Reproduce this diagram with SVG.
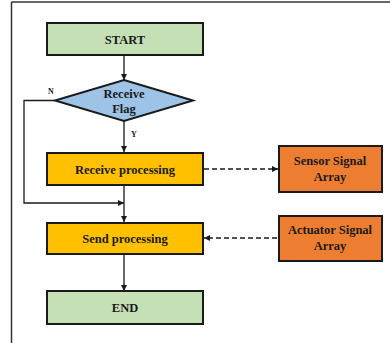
<svg xmlns="http://www.w3.org/2000/svg" width="390" height="343" viewBox="0 0 390 343">
<style>
.box{stroke:#1a1a1a;stroke-width:2}
.green{fill:#C5E0B4}
.yellow{fill:#FFC000}
.orange{fill:#ED7D31}
.blue{fill:#9DC3E6}
.t{font-family:"Liberation Serif","Times New Roman",serif;font-weight:bold;font-size:12.5px;fill:#1a1a1a;text-anchor:middle}
.s{font-family:"Liberation Serif","Times New Roman",serif;font-weight:bold;font-size:8px;fill:#1a1a1a;text-anchor:middle}
.ln{stroke:#1a1a1a;stroke-width:1.3;fill:none}
.dash{stroke:#1a1a1a;stroke-width:1.6;fill:none;stroke-dasharray:5,3}
</style>
<defs>
<marker id="ah" viewBox="0 0 10 10" refX="10" refY="5" markerWidth="6" markerHeight="6" markerUnits="userSpaceOnUse" orient="auto">
<path d="M0,0 L10,5 L0,10 z" fill="#1a1a1a"/>
</marker>
</defs>
<rect width="390" height="343" fill="#ffffff"/>
<g id="frame">
<line x1="11.5" y1="2" x2="390" y2="2" stroke="#333" stroke-width="1.5"/>
<line x1="11.5" y1="2" x2="11.5" y2="343" stroke="#333" stroke-width="1.5"/>
</g>
<g id="connectors">
<line class="ln" x1="124" y1="55" x2="124" y2="80" marker-end="url(#ah)"/>
<line class="ln" x1="124" y1="120" x2="124" y2="152" marker-end="url(#ah)"/>
<polyline class="ln" points="55,100.5 24,100.5 24,203 124,203" marker-end="url(#ah)"/>
<line class="ln" x1="124" y1="185" x2="124" y2="222" marker-end="url(#ah)"/>
<line class="ln" x1="124" y1="254" x2="124" y2="291" marker-end="url(#ah)"/>
<line class="dash" x1="204" y1="169" x2="278" y2="169" marker-end="url(#ah)"/>
<line class="dash" x1="277" y1="238" x2="204" y2="238" marker-end="url(#ah)"/>
<text class="s" x="51" y="94">N</text>
<text class="s" x="134" y="137">Y</text>
</g>
<g id="start">
<rect class="box green" x="47" y="23" width="156" height="32"/>
<text class="t" x="125" y="43.5">START</text>
</g>
<g id="flag">
<polygon class="box blue" points="124,80 193,100.5 124,121 55,100.5" stroke-width="1.5"/>
<text class="t" x="124" y="98">Receive</text>
<text class="t" x="124" y="113">Flag</text>
</g>
<g id="receive">
<rect class="box yellow" x="47" y="153" width="156" height="32"/>
<text class="t" x="125" y="173.5">Receive processing</text>
</g>
<g id="send">
<rect class="box yellow" x="47" y="223" width="156" height="31"/>
<text class="t" x="125" y="243">Send processing</text>
</g>
<g id="end">
<rect class="box green" x="47" y="291" width="156" height="33"/>
<text class="t" x="125" y="311.5">END</text>
</g>
<g id="sensor">
<rect class="box orange" x="279" y="146" width="103" height="46"/>
<text class="t" x="330" y="165">Sensor Signal</text>
<text class="t" x="330" y="181">Array</text>
</g>
<g id="actuator">
<rect class="box orange" x="279" y="216" width="103" height="45"/>
<text class="t" x="330" y="234">Actuator Signal</text>
<text class="t" x="330" y="250">Array</text>
</g>
</svg>
